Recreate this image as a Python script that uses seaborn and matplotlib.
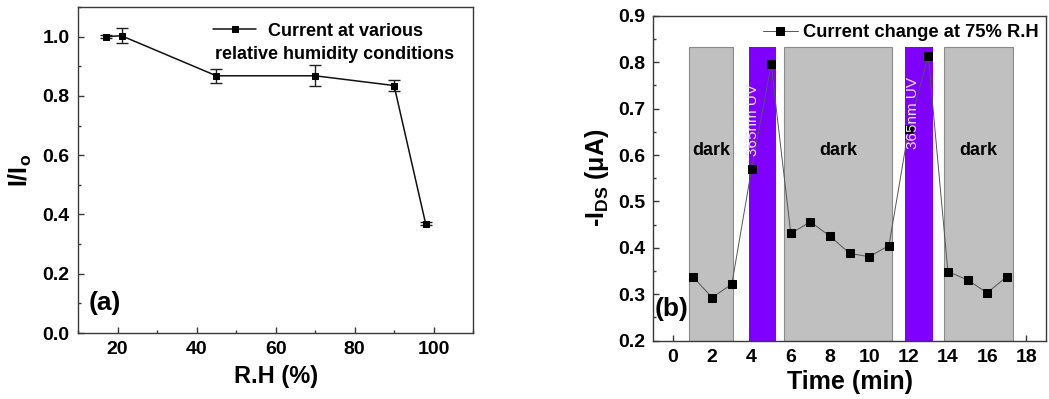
import numpy as np
import pandas as pd
import matplotlib
matplotlib.use("Agg")
import matplotlib.pyplot as plt
import seaborn as sns
from matplotlib.ticker import MultipleLocator

# ---------------- data ----------------
rh = [17, 21, 45, 70, 90, 98]
ratio = [1.0, 1.003, 0.868, 0.868, 0.835, 0.368]
ratio_err = [0.004, 0.025, 0.023, 0.036, 0.02, 0.005]

time_min = list(range(1, 18))
ids = [0.338, 0.293, 0.322, 0.569, 0.795, 0.431, 0.456, 0.425, 0.388,
       0.381, 0.405, 0.655, 0.814, 0.349, 0.331, 0.303, 0.338]

dark_starts = [0.8, 5.65, 13.8]
dark_ends = [3.05, 11.15, 17.3]
uv_starts = [3.85, 11.83]
uv_ends = [5.25, 13.24]
region_top = 0.833
region_bottom = 0.2

legend_a = "Current at various"
legend_a2 = "relative humidity conditions"
legend_b = "Current change at 75% R.H"
dark_label = "dark"
uv_label = "365nm UV"

# ---------------- style ----------------
sns.set_theme(style="ticks")
plt.rcParams['font.family'] = ['Liberation Sans', 'DejaVu Sans']
plt.rcParams['font.weight'] = 'bold'
plt.rcParams['mathtext.fontset'] = 'custom'
plt.rcParams['mathtext.rm'] = 'Liberation Sans:bold'
plt.rcParams['mathtext.bf'] = 'Liberation Sans:bold'
plt.rcParams['mathtext.it'] = 'Liberation Sans:bold'
plt.rcParams['xtick.direction'] = 'in'
plt.rcParams['ytick.direction'] = 'in'
plt.rcParams['text.color'] = 'black'
plt.rcParams['axes.labelcolor'] = 'black'
plt.rcParams['xtick.color'] = 'black'
plt.rcParams['ytick.color'] = 'black'

spine_col = '#3a3a3a'

fig = plt.figure(figsize=(10.49, 3.99), dpi=100)
ax1 = fig.add_axes([0.0744, 0.1654, 0.3766, 0.817])
ax2 = fig.add_axes([0.6228, 0.1461, 0.3744, 0.8145])

# ---------------- panel (a) ----------------
df_a = pd.DataFrame({"RH": rh, "ratio": ratio})
ax1.errorbar(rh, ratio, yerr=ratio_err, fmt='none', ecolor='#222222',
             elinewidth=1.0, capsize=4.5, capthick=1.0, zorder=2)
sns.lineplot(data=df_a, x="RH", y="ratio", ax=ax1, color='#111111',
             linewidth=1.1, marker='s', markersize=5, markeredgecolor='black',
             markerfacecolor='black', label=legend_a, zorder=3)
ax1.set_xlim(10, 110)
ax1.set_ylim(0, 1.1)
ax1.xaxis.set_major_locator(MultipleLocator(20))
ax1.xaxis.set_minor_locator(MultipleLocator(10))
ax1.yaxis.set_major_locator(MultipleLocator(0.2))
ax1.yaxis.set_minor_locator(MultipleLocator(0.1))
ax1.set_xticks([20, 40, 60, 80, 100])
ax1.set_xlabel("R.H (%)", fontsize=17, fontweight='bold', labelpad=5)
ax1.set_ylabel(r"I/I$_\mathregular{o}$", fontsize=18, fontweight='bold', labelpad=6)
ax1.legend(loc='center left', bbox_to_anchor=(0.342, 0.926), frameon=False,
           handlelength=2.4, handletextpad=0.65, borderpad=0,
           borderaxespad=0, prop={'weight': 'bold', 'size': 13})
ax1.text(0.347, 0.853, legend_a2, transform=ax1.transAxes, fontsize=13,
         fontweight='bold', ha='left', va='center')
ax1.text(0.028, 0.092, "(a)", transform=ax1.transAxes, fontsize=19,
         fontweight='bold', ha='left', va='center')

# ---------------- panel (b) ----------------
for s, e in zip(dark_starts, dark_ends):
    ax2.bar(s, region_top - region_bottom, width=e - s, bottom=region_bottom,
            align='edge', color='#c0c0c0', edgecolor='#8a8a8a', linewidth=0.8,
            zorder=1)
    ax2.text((s + e) / 2, 0.61, dark_label, fontsize=13, fontweight='bold',
             ha='center', va='center', color='black', zorder=5)
for s, e in zip(uv_starts, uv_ends):
    ax2.bar(s, region_top - region_bottom, width=e - s, bottom=region_bottom,
            align='edge', color='#7f00ff', edgecolor='#7f00ff', linewidth=0,
            zorder=1)
uv_text_pos = [(4.1, 0.675), (12.2, 0.69)]
df_b = pd.DataFrame({"t": time_min, "ids": ids})
sns.lineplot(data=df_b, x="t", y="ids", ax=ax2, color='#555555', linewidth=0.7,
             marker='s', markersize=5.2, markeredgecolor='black',
             markerfacecolor='black', label=legend_b, zorder=3)
for (tx, ty) in uv_text_pos:
    ax2.text(tx, ty, uv_label, rotation=90, fontsize=11, fontweight='normal',
             color='#ece2ff', ha='center', va='center', zorder=6)
ax2.set_xlim(-1, 19)
ax2.set_ylim(0.2, 0.9)
ax2.xaxis.set_major_locator(MultipleLocator(2))
ax2.yaxis.set_major_locator(MultipleLocator(0.1))
ax2.yaxis.set_minor_locator(MultipleLocator(0.05))
ax2.set_xlabel("Time (min)", fontsize=18, fontweight='bold', labelpad=3)
ax2.set_ylabel(r"-I$_\mathregular{DS}$ (μA)", fontsize=18, fontweight='bold', labelpad=5)
ax2.legend(loc='center left', bbox_to_anchor=(0.279, 0.947), frameon=False,
           handlelength=1.9, handletextpad=0.3, borderpad=0, borderaxespad=0,
           prop={'weight': 'bold', 'size': 13.2})
ax2.text(0.004, 0.098, "(b)", transform=ax2.transAxes, fontsize=19,
         fontweight='bold', ha='left', va='center', zorder=6)

for ax in (ax1, ax2):
    for sp in ax.spines.values():
        sp.set_visible(True)
        sp.set_color(spine_col)
        sp.set_linewidth(1.0)
    ax.tick_params(which='major', length=4, width=1, color=spine_col,
                   labelsize=14, pad=6, top=False, right=False)
    ax.tick_params(which='minor', length=2.5, width=1, color=spine_col,
                   top=False, right=False)
ax1.set_yticks([0.0, 0.2, 0.4, 0.6, 0.8, 1.0])
for ax in (ax1, ax2):
    for lab in ax.get_xticklabels() + ax.get_yticklabels():
        lab.set_fontweight('bold')

fig.savefig("out.png", dpi=100)
